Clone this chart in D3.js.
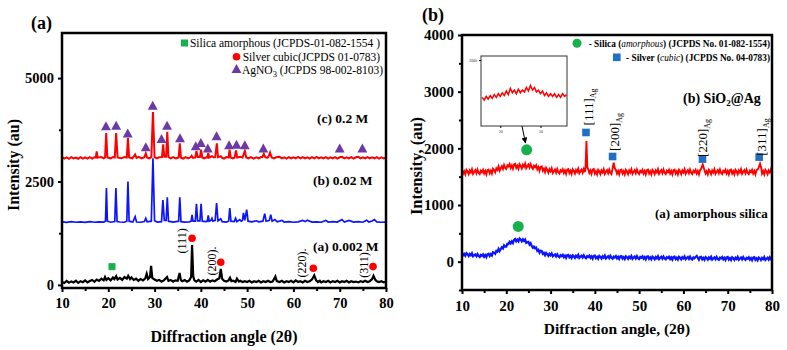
<!DOCTYPE html>
<html><head><meta charset="utf-8">
<script src="https://cdn.jsdelivr.net/npm/d3@7"></script>
<style>
body{margin:0;background:#fff;}
svg text{font-family:"Liberation Serif","Times New Roman",serif;}
</style>
</head><body>
<svg id="chart" width="787" height="350" font-family="Liberation Serif, Times New Roman, serif"></svg>
<script>
// ---------- DATA: panel (a) ----------
const xTicks = [10,20,30,40,50,60,70,80];
const xMinorTicks = [15,25,35,45,55,65,75];
const yTicksA = [0,2500,5000];
const yMinorTicksA = [1250,3750];
const seriesLabelsA = ["(a) 0.002 M","(b) 0.02 M","(c) 0.2 M"];
const legendA = ["Silica amorphous (JCPDS-01-082-1554 )","Silver cubic(JCPDS 01-0783)","AgNO"];

const sample0002 = [[10,70],[10.5,45],[11,95],[11.5,55],[12,85],[12.5,60],[13,100],[13.5,50],[14,90],[14.5,65],[15,110],[15.5,60],[16,95],[16.5,120],[17,75],[17.5,130],[18,95],[18.5,150],[19,110],[19.3,190],[19.6,120],[20,160],[20.5,110],[21,180],[21.3,140],[21.7,210],[22,130],[22.5,170],[23,120],[23.5,190],[24,150],[24.3,220],[24.7,140],[25,180],[25.5,120],[26,150],[26.5,100],[27,140],[27.5,110],[28,160],[28.3,270],[28.6,140],[29,190],[29.25,460],[29.5,170],[30,130],[30.5,100],[31,120],[31.5,80],[32,110],[32.7,190],[33,100],[33.5,120],[34,80],[34.5,110],[35,100],[35.4,290],[35.7,110],[36,90],[36.5,120],[37,80],[37.5,110],[37.9,190],[38.1,965],[38.35,210],[38.6,110],[39,80],[39.5,120],[40,70],[40.5,110],[41,80],[41.5,120],[42,80],[42.5,110],[43,90],[43.5,130],[44,160],[44.3,385],[44.6,150],[45,100],[45.5,80],[46,110],[46.3,170],[46.6,90],[47,100],[47.5,70],[47.8,150],[48.2,80],[48.5,100],[49,70],[49.5,90],[50,70],[50.5,100],[51,60],[51.5,90],[52,70],[52.5,100],[53,60],[53.5,90],[54,70],[54.5,100],[55,70],[55.5,80],[56.1,200],[56.4,90],[57,70],[57.5,100],[58,60],[58.5,90],[59,70],[59.5,100],[60,60],[60.5,110],[61,70],[61.5,90],[62,60],[62.5,100],[63,70],[63.5,90],[64,130],[64.5,230],[64.9,110],[65.3,70],[65.7,100],[66,60],[66.5,90],[67,70],[67.5,100],[68,60],[68.5,90],[69,70],[69.5,100],[70,60],[70.5,90],[71,70],[71.5,100],[72,60],[72.5,90],[73,70],[73.5,80],[74,60],[74.5,90],[75,70],[75.5,100],[76,70],[76.5,90],[77,140],[77.3,220],[77.7,120],[78,90],[78.5,70],[79,90],[79.5,60],[80,80]];

const sample002 = [[10,1525],[11,1510],[12,1530],[13,1515],[14,1525],[15,1510],[16,1530],[17,1515],[18,1525],[19,1520],[19.4,1540],[19.6,2340],[19.8,1540],[20.5,1515],[21.4,1530],[21.65,2340],[21.9,1530],[22.5,1520],[23.5,1515],[24.0,1540],[24.25,2500],[24.5,1540],[25.3,1520],[25.8,1650],[26.1,1520],[27,1515],[27.8,1530],[28.1,1610],[28.4,1525],[29.3,1540],[29.65,3060],[30.0,1550],[30.6,1520],[31.5,1530],[31.8,2050],[32.1,1560],[32.5,1560],[32.75,2120],[33.0,1540],[34,1520],[35.2,1540],[35.45,2120],[35.7,1530],[36.5,1520],[37.5,1525],[37.9,1540],[38.1,1690],[38.3,1540],[38.8,1540],[39.05,1960],[39.3,1550],[39.8,1550],[40.05,1960],[40.3,1540],[41.0,1530],[41.4,1540],[41.6,1680],[41.8,1540],[42.2,1560],[42.4,1610],[42.6,1540],[43.1,1560],[43.4,1980],[43.7,1550],[44.3,1600],[44.6,1530],[45.5,1520],[46.0,1540],[46.25,1860],[46.5,1540],[47.2,1530],[47.5,1610],[47.8,1530],[48.4,1580],[48.7,1540],[49.0,1560],[49.2,1740],[49.5,1560],[49.9,1820],[50.2,1540],[51,1525],[52,1550],[52.5,1525],[53.4,1540],[53.8,1720],[54.1,1540],[54.8,1560],[55.1,1700],[55.4,1540],[56,1580],[56.5,1525],[57.5,1560],[58,1520],[59,1530],[60,1515],[61,1525],[62,1560],[62.5,1530],[63,1565],[64,1520],[65,1525],[66,1515],[67,1560],[67.5,1520],[68.5,1530],[69.5,1520],[70.5,1580],[71,1520],[72,1560],[73,1520],[74,1530],[75,1515],[75.8,1565],[76.3,1520],[77,1545],[77.5,1580],[78,1525],[79,1515],[80,1520]];

const sample02 = [[10,3090],[10.5,3055],[11,3085],[11.5,3050],[12,3090],[12.5,3060],[13,3080],[13.5,3050],[14,3090],[14.5,3055],[15,3085],[15.5,3055],[16,3090],[16.5,3055],[17,3085],[17.3,3080],[17.5,3230],[17.7,3075],[18.5,3090],[19.0,3060],[19.3,3080],[19.55,3670],[19.8,3080],[20.5,3060],[21.0,3090],[21.4,3080],[21.7,3670],[22.0,3080],[22.8,3060],[23.5,3090],[24.0,3080],[24.25,3550],[24.5,3080],[25.2,3060],[25.8,3150],[26.1,3070],[26.6,3095],[27.2,3060],[27.8,3085],[28.1,3180],[28.4,3075],[28.9,3060],[29.3,3090],[29.65,4180],[30.0,3090],[30.5,3060],[31.0,3085],[31.6,3090],[31.85,3400],[32.1,3100],[32.5,3100],[32.75,3700],[33.0,3090],[33.5,3060],[34,3090],[34.6,3060],[35.2,3080],[35.45,3420],[35.7,3075],[36.2,3055],[36.7,3090],[37.3,3060],[37.8,3090],[38.0,3120],[38.3,3070],[38.8,3080],[39.05,3240],[39.3,3090],[39.8,3090],[40.05,3270],[40.3,3080],[40.7,3060],[41.2,3085],[41.4,3080],[41.6,3190],[41.8,3080],[42.4,3110],[42.8,3080],[43.1,3090],[43.45,3420],[43.7,3090],[44.3,3110],[44.6,3070],[45.0,3055],[45.5,3090],[46.0,3080],[46.2,3270],[46.45,3080],[46.9,3060],[47.3,3080],[47.6,3250],[47.85,3080],[48.5,3095],[49.0,3080],[49.5,3240],[49.8,3080],[50.3,3060],[50.8,3090],[51.4,3055],[52.0,3085],[52.5,3060],[53.0,3090],[53.3,3090],[53.6,3170],[53.9,3090],[54.3,3070],[54.6,3095],[54.95,3200],[55.3,3080],[55.8,3060],[56.4,3090],[57,3095],[57.5,3060],[58,3085],[58.5,3055],[59,3090],[59.5,3060],[60,3085],[60.5,3060],[61,3095],[61.5,3060],[62,3090],[62.5,3060],[63,3085],[63.5,3055],[64,3090],[64.5,3060],[65,3095],[65.5,3060],[66,3085],[66.5,3060],[67,3090],[67.5,3055],[68,3085],[68.5,3060],[69,3090],[69.5,3055],[70,3085],[70.5,3095],[71,3060],[71.5,3085],[72,3060],[72.5,3090],[73,3055],[73.5,3085],[74,3095],[74.5,3060],[75,3085],[75.5,3060],[76,3090],[76.5,3060],[77,3085],[77.5,3060],[78,3090],[78.5,3055],[79,3085],[79.5,3060],[80,3075]];

const agno3Marks = [[19.5,3824],[21.7,3840],[24.2,3650],[28.1,3316],[29.6,4324],[31.5,3519],[32.7,3840],[35.5,3534],[38.9,3340],[40.0,3422],[41.5,3285],[43.4,3582],[46.1,3365],[47.7,3380],[49.5,3365],[53.5,3285],[70.0,3285],[74.9,3285]];
const silverMarksA = [[38.1,1128],[44.3,548],[64.3,403],[77.2,442]];
const silicaMarksA = [[20.8,442]];
const hklLabelsA = ["(111)","(200).","(220).","(311)"];
const hklPosA = [[35.9,1063],[42.3,580],[61.8,531],[75.3,483]];

// ---------- DATA: panel (b) ----------
const yTicksB = [0,1000,2000,3000,4000];
const yMinorTicksB = [-500,500,1500,2500,3500];
const seriesLabelsB = ["(a) amorphous silica","(b) SiO","@Ag"];

const sio2ag = [[10,1625],[10.25,1555],[10.5,1595],[10.75,1540],[11,1620],[11.25,1590],[11.5,1545],[11.75,1610],[12,1575],[12.25,1630],[12.5,1550],[12.75,1585],[13,1615],[13.25,1560],[13.5,1625],[13.75,1570],[14,1545],[14.25,1605],[14.5,1580],[14.75,1620],[15,1555],[15.25,1600],[15.5,1540],[15.75,1615],[16,1625],[16.25,1560],[16.5,1605],[16.75,1555],[17,1640],[17.25,1615],[17.5,1575],[17.75,1647],[18,1620],[18.25,1680],[18.5,1605],[18.75,1648],[19,1685],[19.25,1635],[19.5,1705],[19.75,1655],[20,1635],[20.25,1700],[20.5,1680],[20.75,1720],[21,1655],[21.25,1700],[21.5,1640],[21.75,1715],[22,1725],[22.25,1655],[22.5,1695],[22.75,1640],[23,1720],[23.25,1690],[23.5,1645],[23.75,1710],[24,1675],[24.25,1730],[24.5,1650],[24.75,1685],[25,1715],[25.25,1660],[25.5,1720],[25.75,1663],[26,1635],[26.25,1692],[26.5,1665],[26.75,1700],[27,1630],[27.25,1670],[27.5,1605],[27.75,1675],[28,1680],[28.25,1605],[28.5,1640],[28.75,1580],[29,1655],[29.25,1620],[29.5,1570],[29.75,1632],[30,1595],[30.25,1647],[30.5,1565],[30.75,1598],[31,1625],[31.25,1570],[31.5,1635],[31.75,1580],[32,1555],[32.25,1615],[32.5,1590],[32.75,1630],[33,1565],[33.25,1610],[33.5,1550],[33.75,1625],[34,1635],[34.25,1565],[34.5,1605],[34.75,1550],[35,1630],[35.25,1600],[35.5,1555],[35.75,1620],[36,1585],[36.25,1640],[36.5,1560],[36.75,1595],[37,1625],[37.25,1570],[37.5,1635],[37.75,1580],[37.9,1660],[38.1,2130],[38.3,1670],[38.5,1630],[38.75,1565],[39,1610],[39.25,1550],[39.5,1625],[39.75,1635],[40,1555],[40.25,1595],[40.5,1540],[40.75,1620],[41,1590],[41.25,1545],[41.5,1610],[41.75,1575],[42,1630],[42.25,1550],[42.5,1585],[42.75,1615],[43,1560],[43.25,1625],[43.5,1570],[43.75,1545],[44,1640],[44.25,1745],[44.5,1650],[44.75,1620],[45,1555],[45.25,1600],[45.5,1540],[45.75,1615],[46,1625],[46.25,1555],[46.5,1595],[46.75,1540],[47,1620],[47.25,1590],[47.5,1545],[47.75,1610],[48,1575],[48.25,1630],[48.5,1550],[48.75,1585],[49,1615],[49.25,1560],[49.5,1625],[49.75,1570],[50,1545],[50.25,1605],[50.5,1580],[50.75,1620],[51,1555],[51.25,1600],[51.5,1540],[51.75,1615],[52,1625],[52.25,1555],[52.5,1595],[52.75,1540],[53,1620],[53.25,1590],[53.5,1545],[53.75,1610],[54,1575],[54.25,1630],[54.5,1550],[54.75,1585],[55,1615],[55.25,1560],[55.5,1625],[55.75,1570],[56,1545],[56.25,1605],[56.5,1580],[56.75,1620],[57,1555],[57.25,1600],[57.5,1540],[57.75,1615],[58,1625],[58.25,1555],[58.5,1595],[58.75,1540],[59,1620],[59.25,1590],[59.5,1545],[59.75,1610],[60,1575],[60.25,1630],[60.5,1550],[60.75,1585],[61,1615],[61.25,1560],[61.5,1625],[61.75,1570],[62,1545],[62.25,1605],[62.5,1580],[62.75,1620],[63,1555],[63.25,1600],[63.5,1540],[63.75,1615],[64,1640],[64.35,1715],[64.7,1630],[65,1555],[65.25,1595],[65.5,1540],[65.75,1620],[66,1590],[66.25,1545],[66.5,1610],[66.75,1575],[67,1630],[67.25,1550],[67.5,1585],[67.75,1615],[68,1560],[68.25,1625],[68.5,1570],[68.75,1545],[69,1605],[69.25,1580],[69.5,1620],[69.75,1555],[70,1600],[70.25,1540],[70.5,1615],[70.75,1625],[71,1555],[71.25,1595],[71.5,1540],[71.75,1620],[72,1590],[72.25,1545],[72.5,1610],[72.75,1575],[73,1630],[73.25,1550],[73.5,1585],[73.75,1615],[74,1560],[74.25,1625],[74.5,1570],[74.75,1545],[75,1605],[75.25,1580],[75.5,1620],[75.75,1555],[76,1600],[76.25,1540],[76.5,1615],[76.75,1625],[77,1660],[77.3,1730],[77.6,1645],[77.75,1555],[78,1595],[78.25,1540],[78.5,1620],[78.75,1590],[79,1545],[79.25,1610],[79.5,1575],[79.75,1630],[80,1550]];

const amorphousSilica = [[10,160],[10.25,114],[10.5,138],[10.75,103],[11,150],[11.25,131],[11.5,100],[11.75,137],[12,112],[12.25,146],[12.5,94],[12.75,114],[13,130],[13.25,96],[13.5,135],[13.75,99],[14,83],[14.25,119],[14.5,103],[14.75,128],[15,87],[15.25,116],[15.5,80],[15.75,129],[16,140],[16.25,101],[16.5,133],[16.75,108],[17,165],[17.25,157],[17.5,139],[17.75,189],[18,177],[18.25,225],[18.5,187],[18.75,222],[19,253],[19.25,234],[19.5,287],[19.75,266],[20,265],[20.25,315],[20.5,312],[20.75,350],[21,322],[21.25,359],[21.5,330],[21.75,385],[22,400],[22.25,359],[22.5,388],[22.75,359],[23,410],[23.25,390],[23.5,359],[23.75,395],[24,367],[24.25,392],[24.5,331],[24.75,342],[25,348],[25.25,300],[25.5,325],[25.75,275],[26,245],[26.25,267],[26.5,237],[26.75,247],[27,192],[27.25,209],[27.5,159],[27.75,194],[28,190],[28.25,137],[28.5,155],[28.75,114],[29,155],[29.25,134],[29.5,102],[29.75,139],[30,112],[30.25,145],[30.5,93],[30.75,112],[31,128],[31.25,93],[31.5,131],[31.75,95],[32,78],[32.25,114],[32.5,97],[32.75,121],[33,80],[33.25,107],[33.5,68],[33.75,114],[34,120],[34.25,75],[34.5,99],[34.75,65],[35,112],[35.25,95],[35.5,66],[35.75,106],[36,82],[36.25,118],[36.5,67],[36.75,89],[37,106],[37.25,73],[37.5,112],[37.75,77],[38,61],[38.25,98],[38.5,82],[38.75,107],[39,66],[39.25,94],[39.5,55],[39.75,101],[40,107],[40.25,62],[40.5,86],[40.75,53],[41,101],[41.25,83],[41.5,55],[41.75,95],[42,72],[42.25,107],[42.5,57],[42.75,79],[43,96],[43.25,63],[43.5,103],[43.75,67],[44,52],[44.25,89],[44.5,73],[44.75,98],[45,58],[45.25,85],[45.5,47],[45.75,93],[46,99],[46.25,54],[46.5,79],[46.75,45],[47,93],[47.25,76],[47.5,48],[47.75,87],[48,64],[48.25,100],[48.5,50],[48.75,72],[49,90],[49.25,57],[49.5,97],[49.75,62],[50,47],[50.25,83],[50.5,68],[50.75,93],[51,53],[51.25,80],[51.5,42],[51.75,88],[52,95],[52.25,49],[52.5,74],[52.75,41],[53,89],[53.25,71],[53.5,43],[53.75,83],[54,60],[54.25,95],[54.5,45],[54.75,67],[55,85],[55.25,52],[55.5,91],[55.75,56],[56,41],[56.25,78],[56.5,63],[56.75,87],[57,47],[57.25,75],[57.5,37],[57.75,83],[58,90],[58.25,45],[58.5,70],[58.75,37],[59,85],[59.25,68],[59.5,40],[59.75,80],[60,57],[60.25,92],[60.5,42],[60.75,64],[61,82],[61.25,48],[61.5,88],[61.75,53],[62,38],[62.25,74],[62.5,59],[62.75,84],[63,100],[63.25,70],[63.5,33],[63.75,79],[64,86],[64.25,41],[64.5,65],[64.75,32],[65,80],[65.25,63],[65.5,35],[65.75,74],[66,51],[66.25,87],[66.5,37],[66.75,59],[67,76],[67.25,43],[67.5,83],[67.75,48],[68,33],[68.25,70],[68.5,55],[68.75,80],[69,40],[69.25,68],[69.5,30],[69.75,76],[70,83],[70.25,37],[70.5,62],[70.75,29],[71,77],[71.25,60],[71.5,31],[71.75,71],[72,48],[72.25,84],[72.5,34],[72.75,55],[73,73],[73.25,40],[73.5,80],[73.75,45],[74,30],[74.25,66],[74.5,51],[74.75,76],[75,36],[75.25,64],[75.5,25],[75.75,71],[76,78],[76.25,33],[76.5,58],[76.75,25],[77,73],[77.25,56],[77.5,27],[77.75,67],[78,44],[78.25,80],[78.5,30],[78.75,52],[79,70],[79.25,37],[79.5,77],[79.75,42],[80,27]];

const insetSeries = [[15.5,1590],[16,1560],[16.5,1600],[17,1570],[17.5,1610],[18,1580],[18.5,1620],[19,1590],[19.5,1630],[20,1600],[20.5,1640],[21,1610],[21.5,1660],[22,1620],[22.5,1690],[23,1640],[23.5,1670],[24,1630],[24.5,1680],[25,1640],[25.5,1670],[26,1650],[26.5,1700],[27,1660],[27.5,1720],[28,1670],[28.5,1700],[29,1650],[29.5,1670],[30,1630],[30.5,1660],[31,1610],[31.5,1640],[32,1600],[32.5,1630],[33,1600],[33.5,1630],[34,1590],[34.5,1620],[35,1590],[35.5,1630],[36,1600],[36.5,1620]];
const insetXTicks = [20,30];
const insetYTicks = [2000];

const silicaMarksB = [[22.7,622],[24.6,1973]];
const silverMarksB = [[38.0,2280],[44.0,1856],[64.3,1810],[77.1,1845]];
const hklLabelsB = ["[111]","[200]","[220]","[311]"];
const hklPosB = [[38.5,2730],[44.5,2289],[64.4,2183],[77.7,2200]];
const legendB = ["Silica ","amorphous",") (JCPDS No. 01-082-1554)","Silver ","cubic",") (JCPDS No. 04-0783)"];

// ---------- DRAWING ----------
const FONT = "Liberation Serif, Times New Roman, serif";
const svg = d3.select("#chart");
const RED="#ff0000", BLUE="#0a14ff", GREEN="#16b04c", PURPLE="#6b3aa6", SQBLUE="#1f6fc4";

function styleAxis(a, fs){
  a.attr("font-family",FONT);
  a.select(".domain").remove();
  a.selectAll("line").attr("stroke-width",2);
  a.selectAll("text").attr("font-size",fs).attr("font-weight","bold").attr("fill","#000").attr("font-family",FONT);
}
function axes(g, x, y, yMaj, yMin, x0, x1, y0, y1, fs){
  g.append("g").attr("transform",`translate(0,${y1})`)
   .call(d3.axisBottom(x).tickValues(xTicks).tickSize(4).tickPadding(6).tickFormat(d3.format("d")))
   .call(a=>styleAxis(a,fs));
  g.append("g").attr("transform",`translate(0,${y1})`)
   .call(d3.axisBottom(x).tickValues(xMinorTicks).tickSize(3).tickFormat(""))
   .call(a=>styleAxis(a,fs));
  g.append("g").attr("transform",`translate(${x0},0)`)
   .call(d3.axisLeft(y).tickValues(yMaj).tickSize(4).tickPadding(4).tickFormat(d3.format("d")))
   .call(a=>styleAxis(a,fs));
  g.append("g").attr("transform",`translate(${x0},0)`)
   .call(d3.axisLeft(y).tickValues(yMin).tickSize(3).tickFormat(""))
   .call(a=>styleAxis(a,fs));
}

function tri(cx,cy,s){return `M${cx},${cy-s*0.6}L${cx+s*0.55},${cy+s*0.4}L${cx-s*0.55},${cy+s*0.4}Z`;}

// ===== Panel (a) =====
{
const x0=62,x1=386,y0=33,y1=288;
const x = d3.scaleLinear().domain([10,80]).range([x0,x1]);
const y = d3.scaleLinear().domain([-75,6090]).range([y1,y0]);
const g = svg.append("g");
svg.append("clipPath").attr("id","clipA").append("rect").attr("x",x0).attr("y",y0).attr("width",x1-x0).attr("height",y1-y0);
const line = d3.line().x(d=>x(d[0])).y(d=>y(d[1]));
const lg = g.append("g").attr("clip-path","url(#clipA)");
lg.append("path").datum(sample02).attr("d",line).attr("fill","none").attr("stroke",RED).attr("stroke-width",2);
lg.append("path").datum(sample002).attr("d",line).attr("fill","none").attr("stroke",BLUE).attr("stroke-width",1.7);
lg.append("path").datum(sample0002).attr("d",line).attr("fill","none").attr("stroke","#000").attr("stroke-width",2.2);

g.selectAll(".tri").data(agno3Marks).join("path").attr("d",d=>tri(x(d[0]),y(d[1]),9)).attr("fill",PURPLE);
g.selectAll(".agc").data(silverMarksA).join("circle").attr("cx",d=>x(d[0])).attr("cy",d=>y(d[1])).attr("r",3.8).attr("fill",RED);
g.selectAll(".sis").data(silicaMarksA).join("rect").attr("x",d=>x(d[0])-3.5).attr("y",d=>y(d[1])-3.5).attr("width",7).attr("height",7).attr("fill",GREEN);
g.selectAll(".hkl").data(hklLabelsA).join("text")
  .attr("transform",(d,i)=>`translate(${x(hklPosA[i][0])},${y(hklPosA[i][1])}) rotate(-90)`)
  .attr("text-anchor","middle").attr("dy","0.35em").attr("font-size",12).text(d=>d);

axes(g,x,y,yTicksA,yMinorTicksA,x0,x1,y0,y1,14.5);
g.append("rect").attr("x",x0).attr("y",y0).attr("width",x1-x0).attr("height",y1-y0).attr("fill","none").attr("stroke","#000").attr("stroke-width",2.5);

const sl = [[313,251,seriesLabelsA[0]],[313,185,seriesLabelsA[1]],[317,123,seriesLabelsA[2]]];
g.selectAll(".sl").data(sl).join("text").attr("x",d=>d[0]).attr("y",d=>d[1]).attr("font-size",13.5).attr("font-weight","bold").text(d=>d[2]);

const fsL = 11.5;
g.append("rect").attr("x",181).attr("y",39.5).attr("width",7).attr("height",7).attr("fill",GREEN);
g.append("text").attr("x",380).attr("y",47).attr("text-anchor","end").attr("font-size",fsL).text(legendA[0]);
g.append("circle").attr("cx",236.5).attr("cy",56.7).attr("r",3.8).attr("fill",RED);
g.append("text").attr("x",380).attr("y",61).attr("text-anchor","end").attr("font-size",fsL).text(legendA[1]);
g.append("path").attr("d",tri(236.5,69.5,9)).attr("fill",PURPLE);
const t3 = g.append("text").attr("x",242).attr("y",74).attr("font-size",fsL);
t3.append("tspan").text(legendA[2]);
t3.append("tspan").attr("dy",3).attr("font-size",8.5).text("3");
t3.append("tspan").attr("dy",-3).text(" (JCPDS 98-002-8103)");

g.append("text").attr("x",31).attr("y",29).attr("font-size",18).attr("font-weight","bold").text("(a)");
g.append("text").attr("x",(x0+x1)/2).attr("y",342).attr("text-anchor","middle").attr("font-size",16).attr("font-weight","bold").text("Diffraction angle (2\u03b8)");
g.append("text").attr("transform","translate(19,165) rotate(-90)").attr("text-anchor","middle").attr("font-size",16).attr("font-weight","bold").text("Intensity (au)");
}

// ===== Panel (b) =====
{
const x0=462,x1=772,y0=35,y1=290;
const x = d3.scaleLinear().domain([10,80]).range([x0,x1]);
const y = d3.scaleLinear().domain([-500,4000]).range([y1,y0]);
const g = svg.append("g");
svg.append("clipPath").attr("id","clipB").append("rect").attr("x",x0).attr("y",y0).attr("width",x1-x0).attr("height",y1-y0);
const line = d3.line().x(d=>x(d[0])).y(d=>y(d[1]));
const lg = g.append("g").attr("clip-path","url(#clipB)");
lg.append("path").datum(sio2ag).attr("d",line).attr("fill","none").attr("stroke",RED).attr("stroke-width",1.9);
lg.append("path").datum(amorphousSilica).attr("d",line).attr("fill","none").attr("stroke",BLUE).attr("stroke-width",2.2);

g.selectAll(".gc").data(silicaMarksB).join("circle").attr("cx",d=>x(d[0])).attr("cy",d=>y(d[1])).attr("r",5.5).attr("fill",GREEN);
g.selectAll(".bs").data(silverMarksB).join("rect").attr("x",d=>x(d[0])-3.8).attr("y",d=>y(d[1])-3.8).attr("width",7.6).attr("height",7.6).attr("fill",SQBLUE);
const hk = g.selectAll(".hklb").data(hklLabelsB).join("text")
  .attr("transform",(d,i)=>`translate(${x(hklPosB[i][0])},${y(hklPosB[i][1])}) rotate(-90)`)
  .attr("text-anchor","middle").attr("dy","0.35em").attr("font-size",13);
hk.append("tspan").text(d=>d);
hk.append("tspan").attr("dy",3).attr("font-size",8).text("Ag");

axes(g,x,y,yTicksB,yMinorTicksB,x0,x1,y0,y1,15);
g.append("rect").attr("x",x0).attr("y",y0).attr("width",x1-x0).attr("height",y1-y0).attr("fill","none").attr("stroke","#000").attr("stroke-width",2.5);

// inset
const ix0=481, ix1=567, iy0=56, iy1=126;
const xi = d3.scaleLinear().domain([15.2,36.6]).range([ix0,ix1]);
const yi = d3.scaleLinear().domain([1275,2045]).range([iy1,iy0]);
g.append("rect").attr("x",ix0).attr("y",iy0).attr("width",ix1-ix0).attr("height",iy1-iy0).attr("fill","#fff").attr("stroke","#333").attr("stroke-width",1);
g.append("path").datum(insetSeries).attr("d",d3.line().x(d=>xi(d[0])).y(d=>yi(d[1]))).attr("fill","none").attr("stroke",RED).attr("stroke-width",1.5);
g.append("g").attr("transform",`translate(0,${iy1})`).call(d3.axisBottom(xi).tickValues(insetXTicks).tickSize(2).tickPadding(2).tickFormat(d3.format("d")))
  .call(a=>{a.select(".domain").remove();a.selectAll("text").attr("font-size",4).attr("fill","#333").attr("font-family",FONT);});
g.append("g").attr("transform",`translate(${ix0},0)`).call(d3.axisLeft(yi).tickValues(insetYTicks).tickSize(2).tickPadding(2).tickFormat(d3.format("d")))
  .call(a=>{a.select(".domain").remove();a.selectAll("text").attr("font-size",4).attr("fill","#333").attr("font-family",FONT);});
svg.append("defs").append("marker").attr("id","arr").attr("viewBox","0 0 10 10").attr("refX",9).attr("refY",5)
  .attr("markerWidth",6).attr("markerHeight",6).attr("orient","auto")
  .append("path").attr("d","M0,0L10,5L0,10Z").attr("fill","#000");
g.append("line").attr("x1",522).attr("y1",126).attr("x2",525.5).attr("y2",143).attr("stroke","#000").attr("stroke-width",1).attr("marker-end","url(#arr)");

g.append("text").attr("x",655).attr("y",218).attr("font-size",13).attr("font-weight","bold").text(seriesLabelsB[0]);
const sb = g.append("text").attr("x",683).attr("y",103).attr("font-size",14).attr("font-weight","bold");
sb.append("tspan").text(seriesLabelsB[1]);
sb.append("tspan").attr("dy",3).attr("font-size",9).text("2");
sb.append("tspan").attr("dy",-3).text(seriesLabelsB[2]);

const fsB = 9.3;
g.append("circle").attr("cx",577).attr("cy",43.3).attr("r",4.5).attr("fill",GREEN);
const lb1 = g.append("text").attr("x",770).attr("y",47).attr("text-anchor","end").attr("font-size",fsB).attr("font-weight","bold");
lb1.append("tspan").text("- "+legendB[0]+"(");
lb1.append("tspan").attr("font-style","italic").attr("font-weight","normal").text(legendB[1]);
lb1.append("tspan").text(legendB[2]);
g.append("rect").attr("x",613).attr("y",53.5).attr("width",7.6).attr("height",7.6).attr("fill",SQBLUE);
const lb2 = g.append("text").attr("x",770).attr("y",61).attr("text-anchor","end").attr("font-size",fsB).attr("font-weight","bold");
lb2.append("tspan").text("- "+legendB[3]+"(");
lb2.append("tspan").attr("font-style","italic").attr("font-weight","normal").text(legendB[4]);
lb2.append("tspan").text(legendB[5]);

g.append("text").attr("x",422).attr("y",21).attr("font-size",18).attr("font-weight","bold").text("(b)");
g.append("text").attr("x",(x0+x1)/2).attr("y",334).attr("text-anchor","middle").attr("font-size",15.5).attr("font-weight","bold").text("Diffraction angle, (2\u03b8)");
g.append("text").attr("transform","translate(422,166) rotate(-90)").attr("text-anchor","middle").attr("font-size",16.5).attr("font-weight","bold").text("Intensity, (au)");
}
</script>
</body></html>
